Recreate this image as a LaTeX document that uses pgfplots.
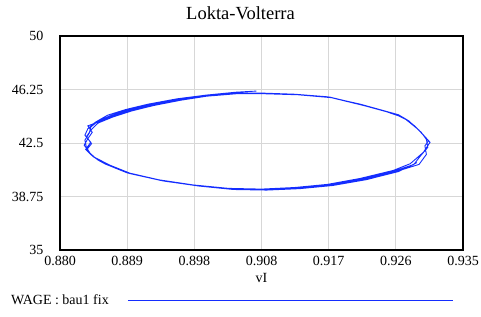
\documentclass[border=0pt]{standalone}
\usepackage{fontspec}
\setmainfont{Liberation Serif}
\usepackage{pgfplots}
\pgfplotsset{compat=1.18}
\definecolor{curve}{RGB}{20,45,255}
\definecolor{gridc}{RGB}{215,215,215}
\begin{document}
\begin{tikzpicture}[x=1bp,y=1bp]
\path[use as bounding box] (0,0) rectangle (481,316);
\begin{axis}[at={(60bp,66bp)}, anchor=south west, scale only axis,
  width=403bp, height=214bp,
  xmin=0.880, xmax=0.935, ymin=35, ymax=50,
  xtick={0.880,0.8891667,0.8983333,0.9075,0.9166667,0.9258333,0.935},
  xticklabels={0.880,0.889,0.898,0.908,0.917,0.926,0.935},
  ytick={35,38.75,42.5,46.25,50},
  yticklabels={35,38.75,42.5,46.25,50},
  grid=major, major grid style={gridc, line width=0.8bp},
  major tick length=0pt,
  axis line style={line width=1.5bp, black},
  tick label style={font=\fontsize{14bp}{16bp}\selectfont},
  xticklabel style={yshift=-2.5bp},
  yticklabel style={xshift=-13bp},
  legend plot pos=right,
  legend image code/.code={\path[draw=none] (0bp,0bp) -- (17bp,0bp);\draw[#1, line width=0.8bp] (17bp,0bp) -- (342bp,0bp);},
  legend style={draw=none, fill=none, at={(-0.1266,-0.2336)}, anchor=west,
    font=\fontsize{14bp}{16bp}\selectfont, inner xsep=0pt},
]
\addplot[curve, line width=0.9bp, mark=none] table {
x y
0.9068 46.14
0.9040 46.06
0.9000 45.86
0.8960 45.60
0.8920 45.22
0.8890 44.85
0.8865 44.45
0.8848 43.95
0.8838 43.50
0.8834 43.05
0.8842 42.55
0.8835 42.05
0.8845 41.55
0.8860 41.08
0.8890 40.45
0.8935 39.92
0.8982 39.56
0.9030 39.32
0.9075 39.27
0.9120 39.38
0.9165 39.60
0.9210 40.02
0.9255 40.58
0.9278 41.05
0.9296 41.85
0.9305 42.55
0.9290 43.40
0.9272 44.15
0.9255 44.58
0.9210 45.22
0.9165 45.74
0.9120 45.92
0.9075 46.00
0.9040 46.00
0.9000 45.82
0.8960 45.56
0.8922 45.20
0.8892 44.82
0.8868 44.40
0.8851 44.00
0.8842 43.62
0.8840 43.20
0.8834 42.70
0.8836 42.20
0.8842 41.70
0.8852 41.30
0.8862 41.02
0.8892 40.40
0.8937 39.88
0.8985 39.52
0.9032 39.28
0.9078 39.24
0.9122 39.34
0.9168 39.56
0.9212 39.98
0.9258 40.56
0.9283 41.00
0.9292 41.60
0.9302 42.20
0.9300 42.75
0.9293 43.25
0.9276 44.05
0.9262 44.48
0.9212 45.18
0.9168 45.72
0.9122 45.90
0.9078 45.97
0.9040 45.98
0.9002 45.80
0.8962 45.53
0.8925 45.15
0.8895 44.78
0.8870 44.35
0.8856 44.05
0.8838 43.70
0.8844 43.25
0.8838 42.80
0.8833 42.35
0.8840 41.85
0.8848 41.45
0.8866 40.98
0.8895 40.36
0.8940 39.85
0.8988 39.50
0.9035 39.26
0.9080 39.22
0.9125 39.32
0.9170 39.53
0.9215 39.95
0.9260 40.52
0.9290 41.00
0.9300 41.70
0.9298 42.30
0.9303 42.65
0.9295 43.10
0.9284 43.70
0.9268 44.30
0.9245 44.70
0.9215 45.12
0.9170 45.68
0.9125 45.88
0.9080 45.95
0.9040 45.95
0.9000 45.78
0.8965 45.50
0.8928 45.13
0.8898 44.75
0.8872 44.32
0.8852 43.90
0.8843 43.45
0.8836 42.95
0.8843 42.45
0.8836 42.00
0.8847 41.50
0.8868 40.95
0.8898 40.33
0.8942 39.83
0.8990 39.48
0.9037 39.24
0.9082 39.20
0.9127 39.30
0.9172 39.52
0.9218 39.93
0.9262 40.50
0.9287 41.12
};
\addlegendentry{WAGE : bau1 fix}
\end{axis}
\node[font=\fontsize{18.5bp}{20bp}\selectfont] at (240.5,303) {Lokta-Volterra};
\node[font=\fontsize{14bp}{16bp}\selectfont] at (261.5,38) {vI};
\end{tikzpicture}
\end{document}
